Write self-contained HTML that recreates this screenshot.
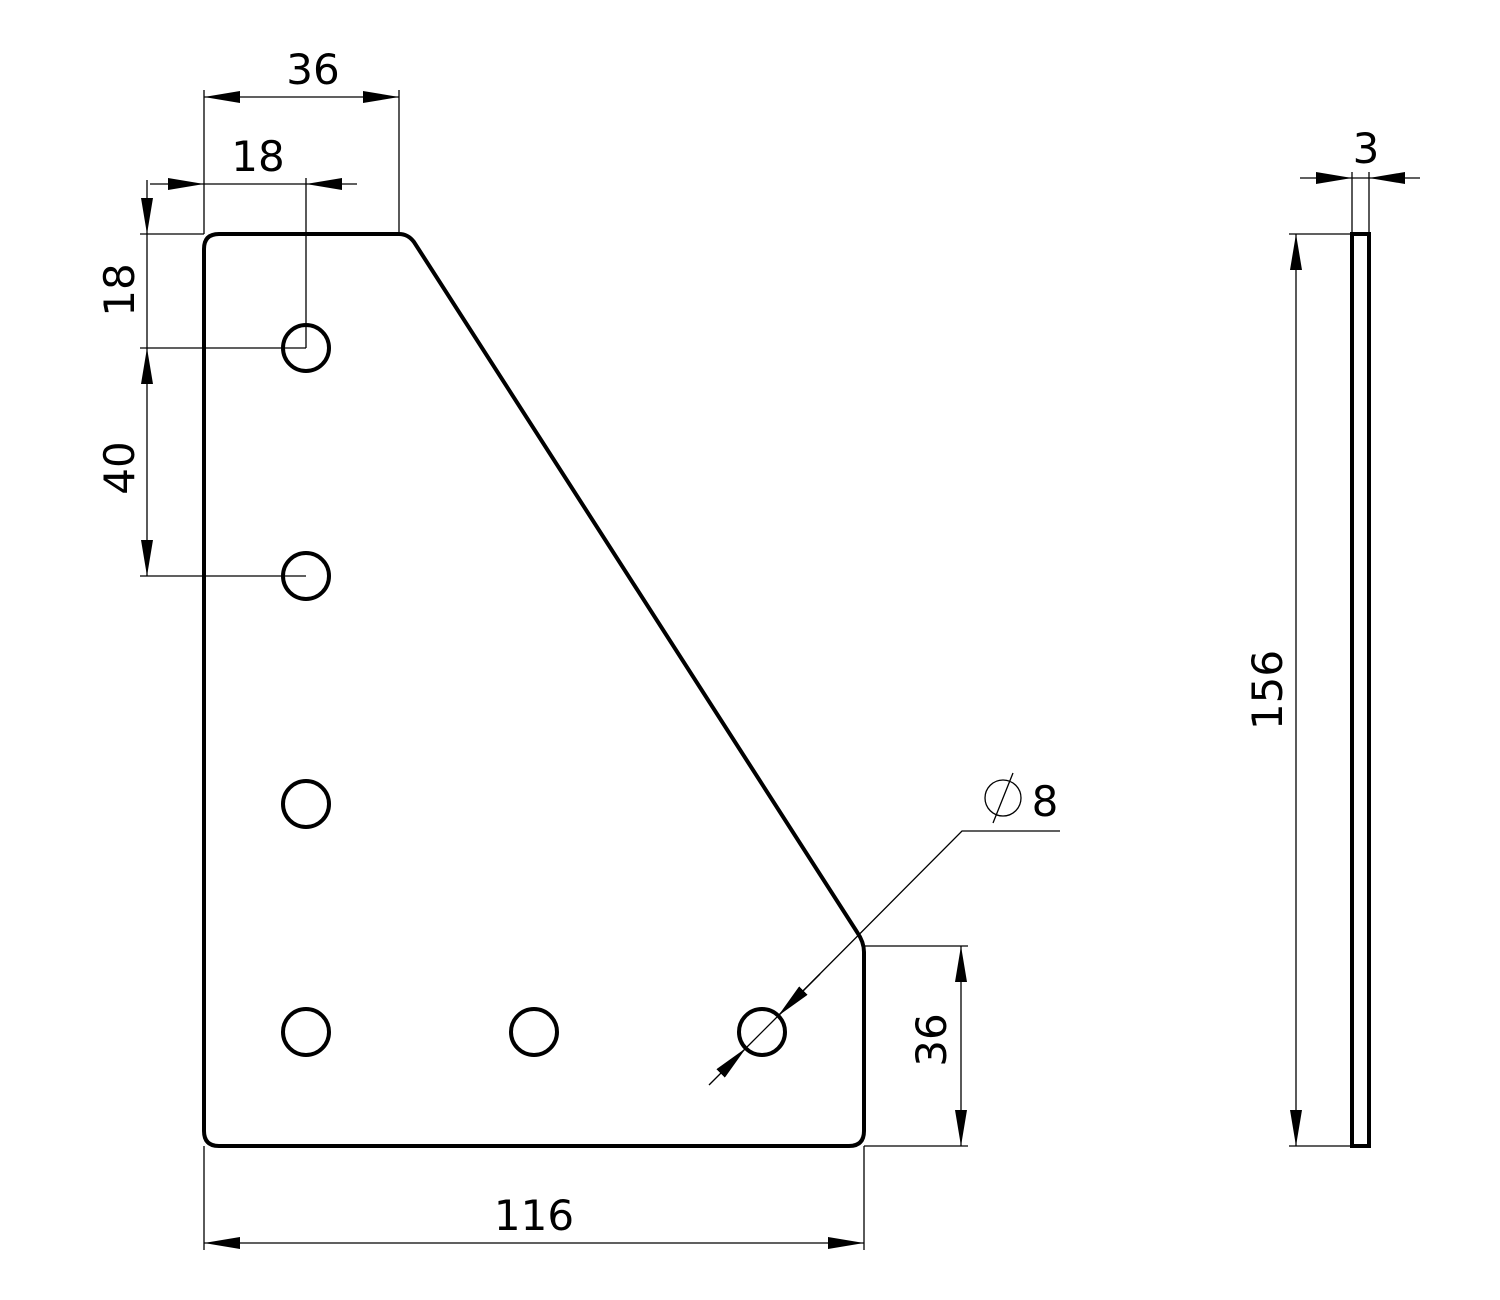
<!DOCTYPE html>
<html><head><meta charset="utf-8"><style>
html,body{margin:0;padding:0;background:#fff;}
svg{display:block;}
text{font-family:"DejaVu Sans","Liberation Sans",sans-serif;font-size:42px;fill:#000;}
</style></head><body>
<svg width="1500" height="1300" viewBox="0 0 1500 1300" xmlns="http://www.w3.org/2000/svg">
<defs>
<marker id="a" viewBox="0 0 36 12" refX="36" refY="6" markerWidth="36" markerHeight="12" markerUnits="userSpaceOnUse" orient="auto-start-reverse">
<path d="M0,0 L36,6 L0,12 Z" fill="#000"/>
</marker>
</defs>
<!-- plate -->
<path d="M219,234 L399,234 Q408,234 414,242 L857,932 Q864,942 864,952 L864,1131 Q864,1146 849,1146 L219,1146 Q204,1146 204,1131 L204,249 Q204,234 219,234 Z" fill="none" stroke="#000" stroke-width="4"/>
<g fill="none" stroke="#000" stroke-width="4">
<circle cx="306" cy="348" r="23"/>
<circle cx="306" cy="576" r="23"/>
<circle cx="306" cy="804" r="23"/>
<circle cx="306" cy="1032" r="23"/>
<circle cx="534" cy="1032" r="23"/>
<circle cx="762" cy="1032" r="23"/>
<rect x="1352" y="234" width="17" height="912"/>
</g>
<g stroke="#000" stroke-width="1.3" fill="none">
<!-- 36 top -->
<line x1="204" y1="90" x2="204" y2="234"/>
<line x1="399" y1="90" x2="399" y2="234"/>
<line x1="204" y1="97" x2="399" y2="97" marker-start="url(#a)" marker-end="url(#a)"/>
<!-- 18 top -->
<line x1="306" y1="178" x2="306" y2="348"/>
<line x1="150" y1="184" x2="204" y2="184" marker-end="url(#a)"/>
<line x1="357" y1="184" x2="306" y2="184" marker-end="url(#a)"/>
<line x1="204" y1="184" x2="306" y2="184"/>
<!-- left vertical -->
<line x1="140" y1="234" x2="204" y2="234"/>
<line x1="140" y1="348" x2="306" y2="348"/>
<line x1="140" y1="576" x2="306" y2="576"/>
<line x1="147" y1="180" x2="147" y2="234" marker-end="url(#a)"/>
<line x1="147" y1="234" x2="147" y2="348"/>
<line x1="147" y1="348" x2="147" y2="576" marker-start="url(#a)" marker-end="url(#a)"/>
<!-- 36 right -->
<line x1="864" y1="946" x2="968" y2="946"/>
<line x1="864" y1="1146" x2="968" y2="1146"/>
<line x1="961" y1="946" x2="961" y2="1146" marker-start="url(#a)" marker-end="url(#a)"/>
<!-- 116 -->
<line x1="204" y1="1146" x2="204" y2="1250"/>
<line x1="864" y1="1146" x2="864" y2="1250"/>
<line x1="204" y1="1243" x2="864" y2="1243" marker-start="url(#a)" marker-end="url(#a)"/>
<!-- dia 8 leader -->
<polyline points="1060,831 962,831 778,1016"/>
<line x1="778" y1="1016" x2="778" y2="1016"/>
<line x1="820" y1="974" x2="778" y2="1016" marker-end="url(#a)"/>
<line x1="709" y1="1085" x2="746" y2="1048" marker-end="url(#a)"/>
<line x1="746" y1="1048" x2="778" y2="1016"/>
<circle cx="1003" cy="798" r="18"/>
<line x1="993" y1="823" x2="1013" y2="773"/>
<!-- 3 -->
<line x1="1352" y1="172" x2="1352" y2="234"/>
<line x1="1369" y1="172" x2="1369" y2="234"/>
<line x1="1300" y1="178" x2="1352" y2="178" marker-end="url(#a)"/>
<line x1="1420" y1="178" x2="1369" y2="178" marker-end="url(#a)"/>
<line x1="1352" y1="178" x2="1369" y2="178"/>
<!-- 156 -->
<line x1="1289" y1="234" x2="1352" y2="234"/>
<line x1="1289" y1="1146" x2="1352" y2="1146"/>
<line x1="1296" y1="234" x2="1296" y2="1146" marker-start="url(#a)" marker-end="url(#a)"/>
</g>
<text x="313" y="84" text-anchor="middle">36</text>
<text x="258" y="171" text-anchor="middle">18</text>
<text x="534" y="1230" text-anchor="middle">116</text>
<text x="1045" y="816" text-anchor="middle">8</text>
<text x="1366" y="163" text-anchor="middle">3</text>
<text transform="translate(134,290) rotate(-90)" text-anchor="middle">18</text>
<text transform="translate(134,468) rotate(-90)" text-anchor="middle">40</text>
<text transform="translate(946,1040) rotate(-90)" text-anchor="middle">36</text>
<text transform="translate(1282,690) rotate(-90)" text-anchor="middle">156</text>
</svg>
</body></html>
